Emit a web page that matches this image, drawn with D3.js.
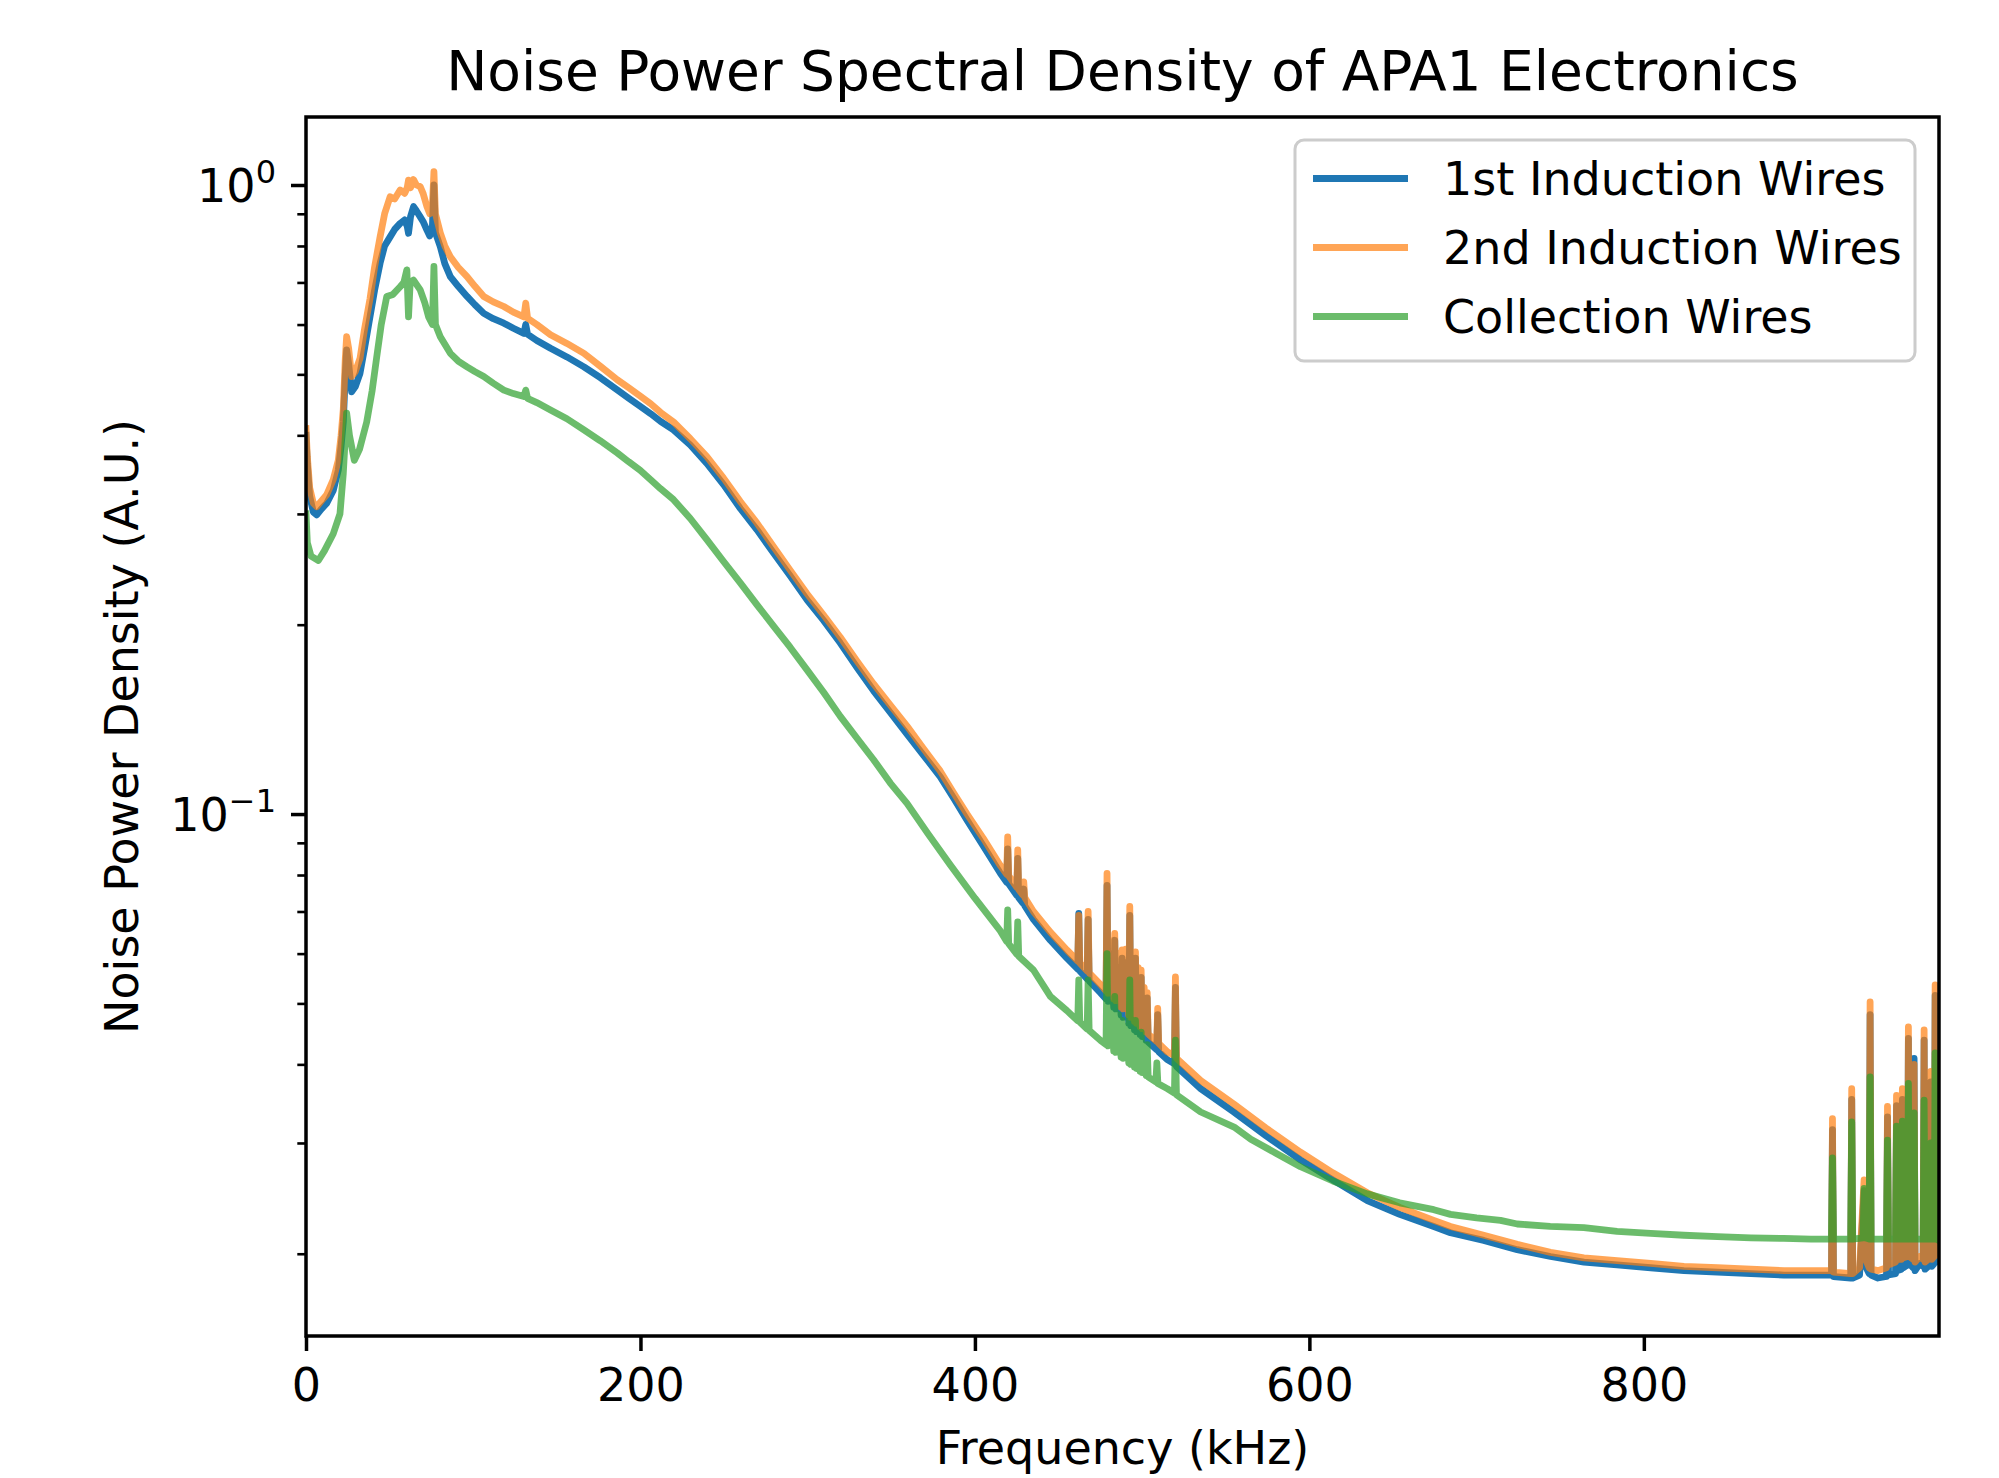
<!DOCTYPE html>
<html lang="en">
<head>
    <meta charset="UTF-8">
    <title>Noise Power Spectral Density of APA1 Electronics</title>
    <script src="https://d3js.org/d3.v7.min.js"></script>
    <style>
        body { margin: 0; background: #fff; }
        text { font-family: "DejaVu Sans", sans-serif; fill: #000; }
    </style>
</head>
<body>
    <div id="chart"></div>

    <script>
        // ---- data: [frequency kHz, noise power density] ----
        const seriesNames = ["1st Induction Wires", "2nd Induction Wires", "Collection Wires"];
        const frequencyTicks = [0, 200, 400, 600, 800];
        const densityTicks = [1, 0.1];
        const densityTickLabels = [["10", "0"], ["10", "\u22121"]];

        const firstInduction = [
            [0, 0.40], [0.8, 0.36], [2.2, 0.32], [4.4, 0.302], [6.4, 0.299], [9, 0.305], [12.4, 0.312], [16.3, 0.327],
            [19.3, 0.352], [21, 0.385], [22.3, 0.42], [23.5, 0.50], [24.3, 0.547], [25.5, 0.52], [27.3, 0.469], [29.5, 0.478],
            [32.3, 0.502], [35, 0.55], [38.3, 0.618], [41, 0.68], [44.3, 0.751], [47, 0.80], [50.3, 0.827], [53, 0.85],
            [56.3, 0.869], [59, 0.88], [60.5, 0.86], [61.3, 0.838], [62.5, 0.89], [64.3, 0.924], [66, 0.91], [68.3, 0.89],
            [70, 0.875], [72.3, 0.848], [74, 0.83], [75.6, 0.86], [76.5, 1.0], [77.4, 0.84], [80.3, 0.798], [83, 0.75],
            [86.3, 0.715], [91, 0.69], [96.3, 0.665], [101, 0.645], [106.3, 0.625], [112, 0.613], [118.3, 0.603], [124, 0.592],
            [130.3, 0.581], [131.4, 0.60], [132.5, 0.579], [138, 0.566], [146.2, 0.55], [156, 0.533], [166.2, 0.514], [176, 0.494],
            [186.2, 0.472], [193, 0.458], [199.8, 0.445], [206.1, 0.433], [212, 0.421], [219.8, 0.408], [229.8, 0.386], [239.7, 0.361], [249.7, 0.334],
            [259.7, 0.306], [269.7, 0.283], [279.6, 0.26], [289.6, 0.239], [299.6, 0.219], [309.6, 0.203], [319.5, 0.187], [329.5, 0.171],
            [339.4, 0.157], [349.4, 0.145], [359.4, 0.134], [369.3, 0.124], [379.3, 0.1146], [387.3, 0.106], [395.3, 0.0978], [405, 0.089],
            [415.2, 0.0805], [419.0, 0.0779], [419.6, 0.088], [420.2, 0.0775], [425.0, 0.0743], [425.6, 0.085], [426.2, 0.0736],
            [428.6, 0.0722], [429.2, 0.076], [429.8, 0.0715], [435, 0.068], [445.1, 0.063], [455, 0.059], [461.5, 0.0567],
            [462.1, 0.0695], [462.7, 0.0563], [467.1, 0.0547], [467.7, 0.068], [468.3, 0.0543], [475, 0.052], [478.4, 0.0508],
            [479, 0.077], [479.6, 0.0504], [481.2, 0.060], [483.0, 0.0493], [483.6, 0.063], [484.2, 0.049], [485.8, 0.057],
            [487.4, 0.0479], [488, 0.059], [488.6, 0.0475], [490.2, 0.058], [492.0, 0.0465], [492.6, 0.069], [493.2, 0.0461],
            [494.3, 0.055], [495.4, 0.0454], [496, 0.059], [496.6, 0.0451], [497.7, 0.054], [498.8, 0.0446], [499.4, 0.055],
            [500, 0.0443], [501.2, 0.050], [502.4, 0.0437], [503, 0.051], [503.6, 0.0434], [508.7, 0.0422], [509.3, 0.048],
            [509.9, 0.0419], [515, 0.0407], [519.3, 0.0401], [519.9, 0.053], [520.5, 0.0397], [535, 0.0366], [554.8, 0.0336],
            [574, 0.0308], [594.7, 0.0282], [614, 0.0262], [634.6, 0.0243], [654, 0.0231], [674.4, 0.0221], [684.4, 0.0216],
            [704.3, 0.021], [724.3, 0.0203], [744.2, 0.0198], [764.2, 0.0194], [784, 0.0192], [804.1, 0.019], [824, 0.0188],
            [844, 0.0187], [864, 0.0186], [883.8, 0.0185], [900, 0.0185], [912.2, 0.0185], [912.8, 0.0315], [913.4, 0.0184],
            [923.7, 0.0183], [924.3, 0.0352], [924.9, 0.0183], [929, 0.0185], [931.7, 0.0252], [933, 0.019], [934.7, 0.0186],
            [935.3, 0.048], [935.9, 0.0185], [940, 0.0183], [945.1, 0.0184], [945.7, 0.033], [946.3, 0.0185], [950.5, 0.0186],
            [951.1, 0.0344], [951.7, 0.0188], [954.0, 0.0189], [954.6, 0.0352], [955.2, 0.019], [957.6, 0.0192], [958.2, 0.044],
            [958.8, 0.0193], [961.0, 0.019], [961.6, 0.0409], [962.2, 0.0188], [965, 0.0193], [967.0, 0.0191], [967.6, 0.0437],
            [968.2, 0.0189], [971.0, 0.0192], [971.6, 0.0375], [972.2, 0.0191], [973.6, 0.0193], [974.2, 0.0515], [974.8, 0.0194],
            [976.5, 0.0196]
        ];

        const secondInduction = [
            [0, 0.41], [0.8, 0.37], [2.2, 0.33], [4.4, 0.312], [6.4, 0.308], [9, 0.314], [12.4, 0.322], [16.3, 0.34],
            [19.3, 0.365], [21, 0.40], [22.3, 0.44], [23.5, 0.53], [24.3, 0.574], [25.5, 0.55], [27.3, 0.496], [29.5, 0.505],
            [32.3, 0.53], [35, 0.59], [38.3, 0.66], [41, 0.74], [44.3, 0.827], [47, 0.90], [50.3, 0.958], [53, 0.95],
            [56.3, 0.982], [59, 0.97], [60.5, 0.99], [61.3, 1.018], [62.5, 0.99], [64.3, 1.02], [66, 1.0], [68.3, 0.994],
            [70, 0.97], [72.3, 0.924], [74, 0.90], [75.6, 0.93], [76.5, 1.05], [77.4, 0.90], [80.3, 0.839], [83, 0.80],
            [86.3, 0.769], [91, 0.74], [96.3, 0.715], [101, 0.69], [106.3, 0.665], [112, 0.652], [118.3, 0.641], [124, 0.628],
            [130.3, 0.617], [131.4, 0.649], [132.5, 0.614], [138, 0.60], [146.2, 0.578], [156, 0.56], [166.2, 0.54], [176, 0.515],
            [186.2, 0.49], [193, 0.476], [199.8, 0.462], [206.1, 0.449], [212, 0.435], [219.8, 0.42], [229.8, 0.395], [239.7, 0.37], [249.7, 0.342],
            [259.7, 0.314], [269.7, 0.29], [279.6, 0.266], [289.6, 0.244], [299.6, 0.224], [309.6, 0.207], [319.5, 0.191], [329.5, 0.175],
            [339.4, 0.161], [349.4, 0.149], [359.4, 0.138], [369.3, 0.127], [379.3, 0.117], [387.3, 0.108], [395.3, 0.100], [405, 0.0915],
            [415.2, 0.0828], [419.0, 0.0802], [419.6, 0.092], [420.2, 0.0798], [425.0, 0.0765], [425.6, 0.0877], [426.2, 0.0758],
            [428.6, 0.0744], [429.2, 0.078], [429.8, 0.0737], [435, 0.070], [445.1, 0.0649], [455, 0.0608], [461.5, 0.0584],
            [462.1, 0.069], [462.7, 0.058], [467.1, 0.0563], [467.7, 0.070], [468.3, 0.0559], [475, 0.0536], [478.4, 0.0523],
            [479, 0.0805], [479.6, 0.0519], [481.2, 0.063], [483.0, 0.0508], [483.6, 0.0646], [484.2, 0.0505], [485.8, 0.060],
            [487.4, 0.0493], [488, 0.0608], [488.6, 0.049], [490.2, 0.061], [492.0, 0.0479], [492.6, 0.0713], [493.2, 0.0475],
            [494.3, 0.058], [495.4, 0.0468], [496, 0.0604], [496.6, 0.0465], [497.7, 0.057], [498.8, 0.0459], [499.4, 0.0565],
            [500, 0.0456], [501.2, 0.053], [502.4, 0.045], [503, 0.052], [503.6, 0.0447], [508.7, 0.0435], [509.3, 0.0491],
            [509.9, 0.0432], [515, 0.0419], [519.3, 0.0413], [519.9, 0.0551], [520.5, 0.0409], [535, 0.0377], [554.8, 0.0346],
            [574, 0.0317], [594.7, 0.029], [614, 0.0269], [634.6, 0.025], [654, 0.0237], [674.4, 0.0226], [684.4, 0.0221],
            [704.3, 0.0214], [724.3, 0.0207], [744.2, 0.0201], [764.2, 0.0197], [784, 0.0195], [804.1, 0.0193], [824, 0.0191],
            [844, 0.019], [864, 0.0189], [883.8, 0.0188], [900, 0.0188], [912.2, 0.0188], [912.8, 0.0328], [913.4, 0.0187],
            [923.7, 0.0186], [924.3, 0.0366], [924.9, 0.0186], [929, 0.019], [931.7, 0.0262], [933, 0.0195], [934.7, 0.019],
            [935.3, 0.0503], [935.9, 0.0189], [940, 0.0188], [945.1, 0.019], [945.7, 0.0343], [946.3, 0.0192], [950.5, 0.0194],
            [951.1, 0.0357], [951.7, 0.0196], [954.0, 0.0196], [954.6, 0.0366], [955.2, 0.0197], [957.6, 0.0198], [958.2, 0.0459],
            [958.8, 0.0198], [961.0, 0.0196], [961.6, 0.040], [962.2, 0.0194], [965, 0.0198], [967.0, 0.0196], [967.6, 0.0454],
            [968.2, 0.0194], [971.0, 0.0197], [971.6, 0.039], [972.2, 0.0196], [973.6, 0.0198], [974.2, 0.0535], [974.8, 0.0199],
            [976.5, 0.02]
        ];

        const collection = [
            [0, 0.30], [0.8, 0.27], [3, 0.257], [7.4, 0.253], [11, 0.262], [16.3, 0.279], [20.3, 0.30], [22.3, 0.348],
            [24.3, 0.434], [26, 0.40], [28.9, 0.365], [32, 0.38], [36.3, 0.42], [39.5, 0.47], [42.3, 0.533], [45, 0.60],
            [48.3, 0.665], [52, 0.67], [56.3, 0.689], [58.5, 0.70], [60.3, 0.733], [61.3, 0.617], [62.3, 0.70], [64.3, 0.706],
            [68.3, 0.681], [71, 0.65], [73.3, 0.617], [75.6, 0.60], [76.5, 0.742], [77.4, 0.60], [80.3, 0.574], [86.3, 0.54],
            [91, 0.525], [96.3, 0.514], [101, 0.505], [106.3, 0.496], [112, 0.484], [118.3, 0.472], [124, 0.466], [130.3, 0.461],
            [131.4, 0.472], [132.5, 0.458], [138, 0.451], [146.2, 0.439], [156, 0.425], [166.2, 0.408], [176, 0.392], [186.2, 0.375],
            [193, 0.363], [199.8, 0.352], [206.1, 0.34], [212, 0.329], [219.8, 0.316], [229.8, 0.295], [239.7, 0.273], [249.7, 0.252], [259.7, 0.233],
            [269.7, 0.215], [279.6, 0.199], [289.6, 0.184], [299.6, 0.1695], [309.6, 0.156], [319.5, 0.143], [329.5, 0.132], [339.4, 0.122],
            [349.4, 0.112], [359.4, 0.104], [372, 0.093], [385.3, 0.083], [400, 0.0735], [415.2, 0.0652], [419.0, 0.0627],
            [419.6, 0.0704], [420.2, 0.0622], [425.0, 0.0599], [425.6, 0.0674], [426.2, 0.0594], [435, 0.0565], [445.1, 0.0513],
            [455, 0.0487], [461.5, 0.0469], [462.1, 0.0545], [462.7, 0.0467], [467.1, 0.0455], [467.7, 0.0545], [468.3, 0.0453],
            [475, 0.0437], [478.4, 0.043], [479, 0.060], [479.6, 0.0428], [481.2, 0.050], [483.0, 0.042], [483.6, 0.0513],
            [484.2, 0.0418], [485.8, 0.048], [487.4, 0.0411], [488, 0.047], [488.6, 0.0409], [490.2, 0.046], [492.0, 0.0402],
            [492.6, 0.0545], [493.2, 0.04], [494.3, 0.045], [495.4, 0.0396], [496, 0.047], [496.6, 0.0394], [497.7, 0.044],
            [498.8, 0.039], [499.4, 0.045], [500, 0.0388], [501.2, 0.042], [502.4, 0.0384], [503, 0.043], [503.6, 0.0382],
            [508.2, 0.0375], [508.8, 0.0402], [509.4, 0.0373], [515, 0.0366], [519.3, 0.036], [519.9, 0.0437], [520.5, 0.0358],
            [535, 0.0336], [555, 0.0318], [565, 0.0304], [580, 0.0289], [594.7, 0.0275], [614, 0.0261], [634.6, 0.0249],
            [654, 0.0241], [674.4, 0.0235], [684.4, 0.0231], [700, 0.0228], [714.3, 0.0226], [724.3, 0.0223], [744, 0.0221],
            [764.2, 0.022], [784, 0.0217], [804.1, 0.02155], [824, 0.0214], [844, 0.0213], [864, 0.0212], [883.8, 0.02115],
            [900, 0.0211], [912.2, 0.0211], [912.8, 0.0284], [913.4, 0.0211], [923.7, 0.0211], [924.3, 0.0324], [924.9, 0.0211],
            [931.1, 0.0212], [931.7, 0.0254], [932.3, 0.0212], [934.7, 0.0211], [935.3, 0.0382], [935.9, 0.0211], [945.1, 0.0211],
            [945.7, 0.0303], [946.3, 0.0211], [950.5, 0.0211], [951.1, 0.0319], [951.7, 0.0211], [954.0, 0.0211], [954.6, 0.0325],
            [955.2, 0.0211], [957.6, 0.0211], [958.2, 0.0373], [958.8, 0.0211], [961.0, 0.0211], [961.6, 0.0335], [962.2, 0.0211],
            [967.0, 0.0211], [967.6, 0.0351], [968.2, 0.0211], [971.0, 0.0211], [971.6, 0.030], [972.2, 0.0211], [973.6, 0.0211],
            [974.2, 0.0417], [974.8, 0.0211], [976.5, 0.021]
        ];

        const seriesColors = ["#1f77b4", "#ff7f0e", "#2ca02c"];
        const seriesAlpha = [1, 0.7, 0.7];

        // ---- layout ----
        const W = 1999, H = 1478;
        const margin = { top: 117, right: 60, bottom: 142, left: 306 },
              width = W - margin.left - margin.right,
              height = H - margin.top - margin.bottom;

        const svg = d3.select("#chart")
            .append("svg")
            .attr("width", W)
            .attr("height", H)
            .style("display", "block");

        svg.append("rect").attr("width", W).attr("height", H).attr("fill", "#fff");

        const g = svg.append("g")
            .attr("transform", `translate(${margin.left},${margin.top})`);

        const x = d3.scaleLinear()
            .domain([0, 976.5])
            .range([0, width]);

        const y = d3.scaleLog()
            .domain([0.0148, 1.2826])
            .range([height, 0]);

        svg.append("defs").append("clipPath")
            .attr("id", "plotClip")
            .append("rect")
            .attr("width", width)
            .attr("height", height);

        // lines
        const line = d3.line()
            .x(d => x(d[0]))
            .y(d => y(d[1]));

        const allSeries = [firstInduction, secondInduction, collection];

        g.append("g")
            .attr("clip-path", "url(#plotClip)")
            .selectAll("path")
            .data(allSeries)
            .join("path")
            .attr("fill", "none")
            .attr("stroke", (d, i) => seriesColors[i])
            .attr("stroke-opacity", (d, i) => seriesAlpha[i])
            .attr("stroke-width", 6.8)
            .attr("stroke-linejoin", "round")
            .attr("stroke-linecap", "square")
            .attr("d", line);

        // axes
        const xAxis = g.append("g")
            .attr("transform", `translate(0,${height})`)
            .call(d3.axisBottom(x).tickValues(frequencyTicks).tickSize(15).tickPadding(15).tickFormat(d3.format("d")));

        const minorTicks = [];
        [0.01, 0.1].forEach(dec => {
            for (let k = 2; k <= 9; k++) {
                const v = k * dec;
                if (v >= y.domain()[0] && v <= y.domain()[1]) minorTicks.push(v);
            }
        });

        const yMinor = g.append("g")
            .call(d3.axisLeft(y).tickValues(minorTicks).tickSize(8.7).tickFormat(""));
        yMinor.selectAll(".tick line").attr("stroke-width", 2.6);

        const yAxis = g.append("g")
            .call(d3.axisLeft(y).tickValues(densityTicks).tickSize(15).tickFormat(""));

        [xAxis, yAxis, yMinor].forEach(a => {
            a.select(".domain").remove();
            a.selectAll(".tick line").attr("stroke", "#000");
        });
        xAxis.selectAll(".tick line").attr("stroke-width", 3.5);
        yAxis.selectAll(".tick line").attr("stroke-width", 3.5);

        xAxis.selectAll(".tick text")
            .attr("font-size", 46)
            .attr("font-family", "DejaVu Sans")
            .attr("fill", "#000")
            .attr("dy", null)
            .attr("y", 65);

        // y tick labels with superscript exponents
        const yLabels = g.append("g").selectAll("text")
            .data(densityTicks)
            .join("text")
            .attr("x", -30)
            .attr("y", d => y(d) + 17)
            .attr("text-anchor", "end")
            .attr("font-size", 46);
        yLabels.append("tspan").text((d, i) => densityTickLabels[i][0]);
        yLabels.append("tspan")
            .attr("font-size", 32)
            .attr("dy", -19)
            .text((d, i) => densityTickLabels[i][1]);

        // frame
        g.append("rect")
            .attr("width", width)
            .attr("height", height)
            .attr("fill", "none")
            .attr("stroke", "#000")
            .attr("stroke-width", 3.5);

        // title and axis labels
        svg.append("text")
            .attr("x", margin.left + width / 2)
            .attr("y", 90)
            .attr("text-anchor", "middle")
            .attr("font-size", 55)
            .text("Noise Power Spectral Density of APA1 Electronics");

        svg.append("text")
            .attr("x", margin.left + width / 2)
            .attr("y", 1464)
            .attr("text-anchor", "middle")
            .attr("font-size", 46)
            .text("Frequency (kHz)");

        svg.append("text")
            .attr("transform", `translate(138,${margin.top + height / 2}) rotate(-90)`)
            .attr("text-anchor", "middle")
            .attr("font-size", 46)
            .text("Noise Power Density (A.U.)");

        // legend
        const legend = svg.append("g").attr("transform", "translate(1295,140)");
        legend.append("rect")
            .attr("width", 620)
            .attr("height", 221)
            .attr("rx", 9)
            .attr("fill", "#fff")
            .attr("fill-opacity", 0.8)
            .attr("stroke", "#cccccc")
            .attr("stroke-width", 3);

        const item = legend.selectAll(".item")
            .data(seriesNames)
            .join("g")
            .attr("class", "item")
            .attr("transform", (d, i) => `translate(0,${38.5 + i * 69})`);

        item.append("line")
            .attr("x1", 18)
            .attr("x2", 113)
            .attr("stroke", (d, i) => seriesColors[i])
            .attr("stroke-opacity", (d, i) => seriesAlpha[i])
            .attr("stroke-width", 6.8);

        item.append("text")
            .attr("x", 148)
            .attr("y", 16)
            .attr("font-size", 46)
            .text(d => d);
    </script>
</body>
</html>
